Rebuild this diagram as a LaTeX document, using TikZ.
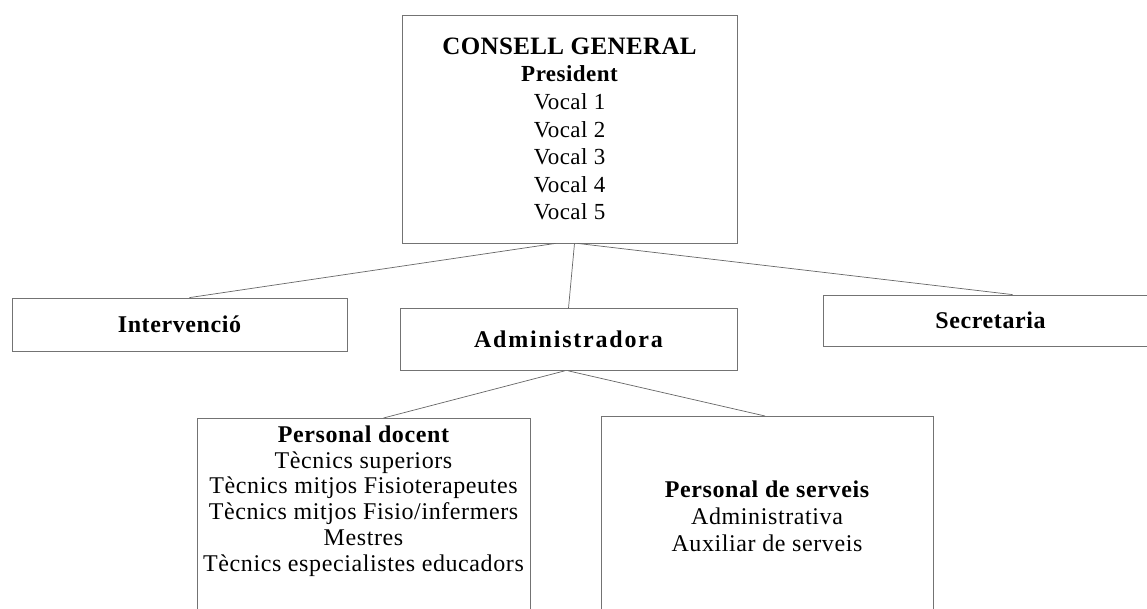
\documentclass[tikz,border=0pt]{standalone}
\usepackage{fontspec}
\setmainfont{Liberation Serif}
\newfontfamily\lsA[LetterSpace=2.5]{Liberation Serif}
\newfontfamily\lsB[LetterSpace=2]{Liberation Serif}
\newfontfamily\lsT[LetterSpace=1.5]{Liberation Serif}
\newfontfamily\lsW[LetterSpace=7.5]{Liberation Serif}
\begin{document}
\begin{tikzpicture}[x=1pt,y=-1pt,
  box/.style={draw=black!55,line width=0.8pt,rectangle,inner sep=0pt,align=center},
  link/.style={draw=black!60,line width=0.7pt},
  midb/.style={font=\fontsize{24}{28}\lsA\bfseries}]
\path[use as bounding box] (0,0) rectangle (1147,609);
\clip (0,0) rectangle (1147,609);
\fill[white] (0,0) rectangle (1147,609);

\node[box,minimum width=335pt,minimum height=228pt,
  font=\fontsize{23}{27.6}\lsB] (cg) at (569.5,129)
  {{\fontsize{25}{27.6}\lsT\bfseries CONSELL GENERAL}\\
   {\bfseries President}\\ Vocal 1\\ Vocal 2\\ Vocal 3\\ Vocal 4\\ Vocal 5};

\node[box,minimum width=335pt,minimum height=53pt,midb] (int) at (179.5,324.5) {Intervenció};
\node[box,minimum width=337pt,minimum height=62pt,font=\fontsize{24}{28}\lsW\bfseries] (adm) at (568.5,339.5) {Administradora};
\node[box,minimum width=335pt,minimum height=51pt,midb] (sec) at (990.5,320.5) {Secretaria};

\node[box,minimum width=333pt,minimum height=230pt,anchor=north] (doc) at (363.5,418) {};
\node[align=center,font=\fontsize{24}{25.8}\lsA,inner sep=0pt] (doctext) at (363.5,501)
  {{\bfseries Personal docent}\\ Tècnics superiors\\
   Tècnics mitjos Fisioterapeutes\\
   Tècnics mitjos Fisio/infermers\\ Mestres\\
   Tècnics especialistes educadors};

\node[box,minimum width=332pt,minimum height=230pt,anchor=north] (ser) at (767,416) {};
\node[align=center,font=\fontsize{24}{27}\lsA,inner sep=0pt] (sertext) at (767,516)
  {{\bfseries Personal de serveis}\\ Administrativa\\ Auxiliar de serveis};

\draw[link] ([xshift=-14pt]cg.south) -- ([xshift=10pt]int.north);
\draw[link] ([xshift=5pt]cg.south) -- (adm.north);
\draw[link] ([xshift=8pt]cg.south) -- ([xshift=22pt]sec.north);
\draw[link] ([xshift=-4pt]adm.south) -- ([xshift=20pt]doc.north);
\draw[link] ([xshift=0pt]adm.south) -- ([xshift=-2pt]ser.north);
\end{tikzpicture}
\end{document}
